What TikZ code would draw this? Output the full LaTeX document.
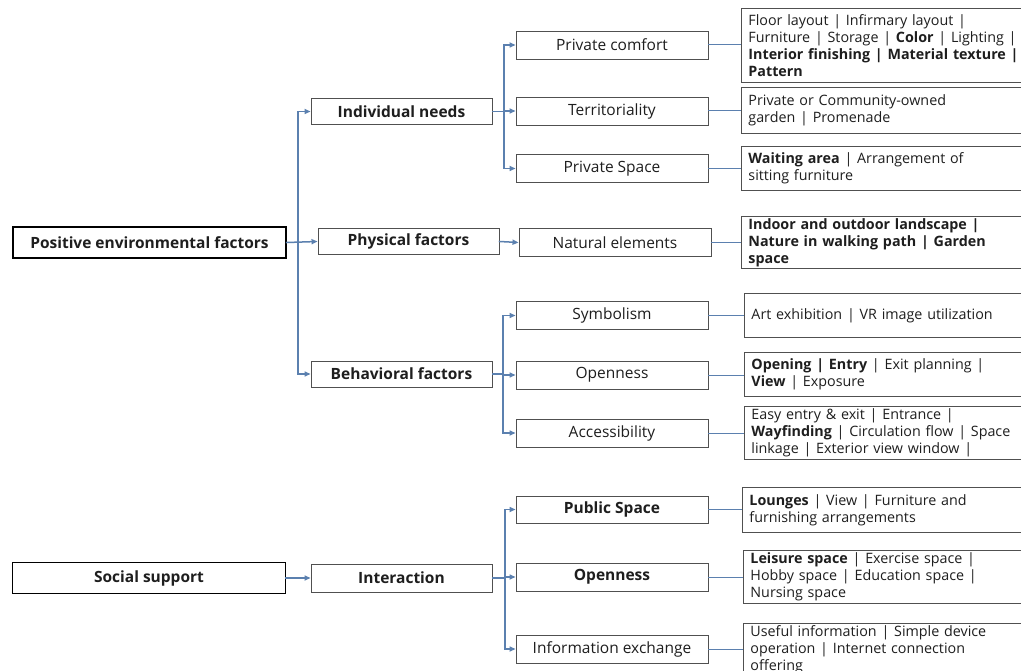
\documentclass[tikz,border=0pt]{standalone}
\usepackage{fontspec}
\setmainfont{Open Sans}
\usetikzlibrary{arrows.meta}
\definecolor{conn}{HTML}{5B80AF}
\definecolor{boxline}{HTML}{505050}
\definecolor{txt}{HTML}{1E1E1E}
\begin{document}
\begin{tikzpicture}[x=1pt,y=-1pt,
  boxfont/.style={font=\fontsize{15.5}{18}\selectfont, text=txt},
  boxfontb/.style={font=\fontsize{15.5}{18}\selectfont\bfseries, text=txt},
  rootbox/.style={boxfontb, draw=black, line width=1.3pt, minimum width=273pt, minimum height=31pt, inner sep=0pt},
  lvtwo/.style={boxfontb, draw=boxline, line width=0.9pt, minimum width=181pt, minimum height=26pt, inner sep=0pt},
  lvthree/.style={boxfont, draw=boxline, line width=0.9pt, minimum width=192pt, minimum height=28pt, inner sep=0pt},
  lvthreeb/.style={lvthree, boxfontb},
  detail/.style={font=\fontsize{14.3}{17}\selectfont, text=txt, draw=boxline, line width=0.9pt, anchor=north west, text width=300pt, align=left, inner xsep=7pt, inner ysep=2pt},
  trunk/.style={draw=conn, line width=1.5pt},
  arr/.style={draw=conn, line width=1.5pt, -{Triangle[length=6pt,width=5pt]}, shorten <=-0.7pt},
  link/.style={draw=conn, line width=1pt}
]
\clip (0,0) rectangle (1021,671);
\fill[white] (0,0) rectangle (1021,671);

% level 1
\node[rootbox] (pos) at (149.5,242.5) {Positive environmental factors};
\node[rootbox] (soc) at (149,578) {Social support};

% level 2
\node[lvtwo] (ind) at (401.5,111.5) {Individual needs};
\node[lvtwo] (phy) at (408.5,241.5) {Physical factors};
\node[lvtwo] (beh) at (401.5,374) {Behavioral factors};
\node[lvtwo, minimum height=28pt] (int) at (401.5,578) {Interaction};

% level 3
\node[lvthree] (pc) at (612,45) {Private comfort};
\node[lvthree] (te) at (612,111) {Territoriality};
\node[lvthree] (ps) at (612,168.5) {Private Space};
\node[lvthree] (ne) at (615,242.5) {Natural elements};
\node[lvthree] (sy) at (612,315.5) {Symbolism};
\node[lvthree] (op) at (612,375) {Openness};
\node[lvthree] (ac) at (612,433) {Accessibility};
\node[lvthreeb, minimum height=27pt] (pu) at (612,509.5) {Public Space};
\node[lvthreeb] (opb) at (612,577) {Openness};
\node[lvthree] (ie) at (612,649) {Information exchange};

% details
\node[detail, minimum height=74pt] (d1) at (741,8) {Floor layout | Infirmary layout |\\Furniture | Storage | \textbf{Color} | Lighting |\\\textbf{Interior finishing | Material texture |}\\\textbf{Pattern}};
\node[detail, minimum height=46pt] (d2) at (741,87) {Private or Community-owned\\garden | Promenade};
\node[detail, minimum height=44pt] (d3) at (741,146) {\textbf{Waiting area} | Arrangement of\\sitting furniture};
\node[detail, minimum height=52pt] (d4) at (741,216) {\textbf{Indoor and outdoor landscape |}\\\textbf{Nature in walking path | Garden}\\\textbf{space}};
\node[detail, minimum height=44pt] (d5) at (744,293) {Art exhibition | VR image utilization};
\node[detail, minimum height=44pt] (d6) at (744,352) {\textbf{Opening | Entry} | Exit planning |\\\textbf{View} | Exposure};
\node[detail, minimum height=53pt] (d7) at (744,406) {Easy entry \& exit | Entrance |\\\textbf{Wayfinding} | Circulation flow | Space\\linkage | Exterior view window |};
\node[detail, minimum height=45pt] (d8) at (742,487) {\textbf{Lounges} | View | Furniture and\\furnishing arrangements};
\node[detail, minimum height=53pt] (d9) at (743,550) {\textbf{Leisure space} | Exercise space |\\Hobby space | Education space |\\Nursing space};
\node[detail, minimum height=53pt] (d10) at (743,623) {Useful information | Simple device\\operation | Internet connection\\offering};

% trunk coordinates
\coordinate (ta) at (298,0);
\coordinate (tb) at (504,0);
\coordinate (tc) at (503,0);
\coordinate (td) at (505,0);

% level 1 -> level 2
\draw[trunk] (ind.west -| ta) -- (beh.west -| ta);
\draw[arr] (ind.west -| ta) -- (ind.west);
\draw[arr] (beh.west -| ta) -- (beh.west);
\draw[arr] (pos.east) -- (phy.west);
\draw[arr] (soc.east) -- (int.west);

% individual needs branch
\draw[trunk] (ind.east) -- (ind.east -| tb);
\draw[trunk] (pc.west -| tb) -- (ps.west -| tb);
\draw[arr] (pc.west -| tb) -- (pc.west);
\draw[arr] (te.west -| tb) -- (te.west);
\draw[arr] (ps.west -| tb) -- (ps.west);

% physical
\draw[arr] (phy.east) -- (ne.west);

% behavioral branch
\draw[trunk] (beh.east) -- (beh.east -| tc);
\draw[trunk] (sy.west -| tc) -- (ac.west -| tc);
\draw[arr] (sy.west -| tc) -- (sy.west);
\draw[arr] (op.west -| tc) -- (op.west);
\draw[arr] (ac.west -| tc) -- (ac.west);

% interaction branch
\draw[trunk] (int.east) -- (int.east -| td);
\draw[trunk] (pu.west -| td) -- (ie.west -| td);
\draw[arr] (pu.west -| td) -- (pu.west);
\draw[arr] (opb.west -| td) -- (opb.west);
\draw[arr] (ie.west -| td) -- (ie.west);

% links to details
\draw[link] (pc.east) -- (pc.east -| d1.west);
\draw[link] (te.east) -- (te.east -| d2.west);
\draw[link] (ps.east) -- (ps.east -| d3.west);
\draw[link] (ne.east) -- (ne.east -| d4.west);
\draw[link] (sy.east) -- (sy.east -| d5.west);
\draw[link] (op.east) -- (op.east -| d6.west);
\draw[link] (ac.east) -- (ac.east -| d7.west);
\draw[link] (pu.east) -- (pu.east -| d8.west);
\draw[link] (opb.east) -- (opb.east -| d9.west);
\draw[link] (ie.east) -- (ie.east -| d10.west);
\end{tikzpicture}
\end{document}
